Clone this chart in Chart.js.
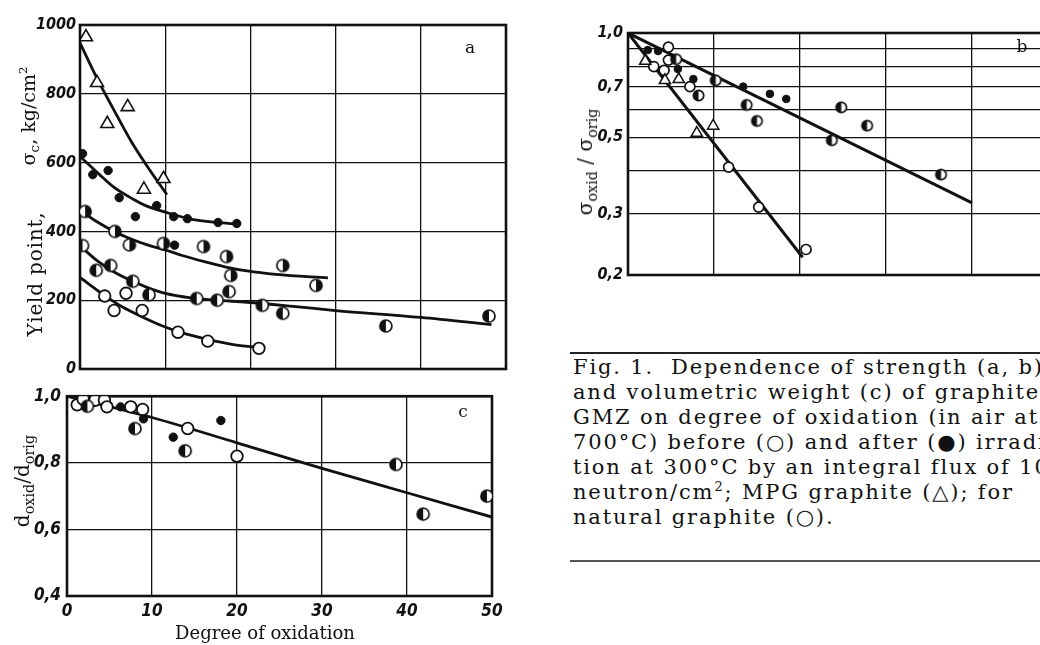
<!DOCTYPE html>
<html>
<head>
<meta charset="utf-8">
<script src="https://cdn.jsdelivr.net/npm/chart.js@4.4.1/dist/chart.umd.min.js"></script>
<style>
  html, body { margin: 0; padding: 0; background: #fff; }
  #page { position: relative; width: 1040px; height: 645px; overflow: hidden; background: #fff; }
  #page canvas { position: absolute; }
  .rot { position: absolute; white-space: nowrap; transform: translate(-50%, -50%) rotate(-90deg);
         font-family: 'DejaVu Serif', serif; color: #111; line-height: 1; }
  .lbl { position: absolute; white-space: nowrap; transform: translate(-50%, -50%);
         font-family: 'DejaVu Serif', serif; color: #111; line-height: 1; }
  .rot sub, .lbl sub { font-size: 72%; vertical-align: -0.32em; line-height: 0; }
  .rot sup { font-size: 62%; vertical-align: 0.6em; line-height: 0; }
  #caption { position: absolute; left: 573px; top: 355px; font-family: 'DejaVu Serif', serif;
             font-size: 21px; letter-spacing: 1.85px; line-height: 25px; white-space: nowrap; color: #111; }
  #caption sup { font-size: 62%; vertical-align: 0.6em; line-height: 0; }
  .rule { position: absolute; left: 570px; width: 480px; background: #222; }
</style>
</head>
<body>
<div id="page">
  <canvas id="chartA" width="520" height="385" style="left:0;top:0"></canvas>
  <canvas id="chartC" width="520" height="265" style="left:0;top:380px"></canvas>
  <canvas id="chartB" width="530" height="290" style="left:540px;top:0"></canvas>

  <div class="rot" style="left:28px;top:116px;font-size:19px">σ<sub>c</sub>, kg/cm<sup>2</sup></div>
  <div class="rot" style="left:35px;top:274px;font-size:20px;letter-spacing:0.8px">Yield point,</div>
  <div class="rot" style="left:22px;top:481px;font-size:20px">d<sub>oxid</sub>/d<sub>orig</sub></div>
  <div class="rot" style="left:585px;top:162px;font-size:20px">σ<sub>oxid</sub> / σ<sub>orig</sub></div>

  <div class="lbl" style="left:470px;top:47px;font-size:17px">a</div>
  <div class="lbl" style="left:463px;top:411px;font-size:17px">c</div>
  <div class="lbl" style="left:1022px;top:46px;font-size:17px">b</div>
  <div class="lbl" style="left:265px;top:633px;font-size:18px">Degree of oxidation</div>

  <div class="rule" style="top:352px;height:2px"></div>
  <div id="caption">
    <div>Fig. 1.&nbsp; Dependence of strength (a, b)</div>
    <div>and volumetric weight (c) of graphite</div>
    <div>GMZ on degree of oxidation (in air at</div>
    <div>700°C) before (○) and after (●) irradia-</div>
    <div>tion at 300°C by an integral flux of 10<sup>20</sup></div>
    <div>neutron/cm<sup>2</sup>; MPG graphite (△); for</div>
    <div>natural graphite (○).</div>
  </div>
  <div class="rule" style="top:560px;height:1.5px;background:#555"></div>
</div>

<script>
// ---- Panel a: yield point (kg/cm²) vs. degree of oxidation (%) ----
const aMpgPoints   = [[0.7,965],[2.0,832],[3.2,713],[5.6,762],[7.5,522],[9.8,553]];
const aMpgCurve    = [[0,948],[2,845],[4,752],[6,662],[8,585],[10.2,507]];
const aIrrPoints   = [[0.3,626],[1.5,565],[3.3,577],[4.6,498],[6.5,443],[9.0,475],[11.0,443],
                      [11.1,360],[12.6,437],[16.2,426],[18.4,423]];
const aIrrCurve    = [[0,618],[2.3,565],[4,528],[6.3,493],[8,472],[10,456],[13,436],[16,426],[18.5,421]];
const aHalfUpper   = [[0.6,458],[4.1,400],[5.8,361],[9.8,365],[14.5,356],[17.2,327],[17.7,272],
                      [23.8,301],[27.7,243]];
const aUpperCurve  = [[0,462],[2,428],[4,400],[6,378],[8,360],[10,346],[12,330],[14.6,312],
                      [17,297],[19.6,285],[23,275],[29.1,265]];
const aHalfLower   = [[0.3,359],[1.9,287],[3.6,301],[6.2,255],[8.1,216],[13.7,205],[16.1,200],
                      [17.5,225],[21.4,185],[23.8,162],[35.9,125],[48.0,154]];
const aLowerCurve  = [[0,358],[2,315],[4,282],[6,257],[8,236],[10,220],[13,207],[16,200],
                      [19.6,194],[25,182],[30,170],[40,150],[48.3,129]];
const aOpenPoints  = [[2.9,212],[4.0,170],[5.4,220],[7.3,170],[11.5,107],[15.0,81],[21.0,60]];
const aOpenCurve   = [[0,266],[3,212],[5,180],[7,155],[10,122],[12,105],[15,86],[18,71],[21,62]];
const aYTicks      = [0, 200, 400, 600, 800, 1000];
const aYTickLabels = ['0', '200', '400', '600', '800', '1000'];

// ---- Panel b: relative strength (log scale) ----
const bIrrPoints   = [[2.3,0.893],[3.5,0.887],[5.8,0.787],[7.6,0.736],[13.4,0.70],[16.5,0.667],[18.4,0.645]];
const bOpenPoints  = [[3.0,0.80],[4.2,0.78],[4.7,0.835],[4.7,0.91],[7.2,0.70],[11.7,0.41],[15.2,0.314],[20.7,0.237]];
const bHalfPoints  = [[5.6,0.84],[8.2,0.66],[10.2,0.73],[13.8,0.62],[15.0,0.557],[23.7,0.49],
                      [24.8,0.61],[27.8,0.54],[36.4,0.39]];
const bMpgPoints   = [[2.0,0.83],[4.3,0.73],[5.9,0.735],[8.0,0.514],[9.9,0.539]];
const bUpperLine   = [[0,1.0],[40,0.323]];
const bLowerLine   = [[0,1.0],[20.3,0.225]];
const bTickValues  = [0.2, 0.3, 0.4, 0.5, 0.6, 0.7, 0.8, 0.9, 1.0];
const bTickLabels  = ['0,2', '0,3', '', '0,5', '', '0,7', '', '', '1,0'];

// ---- Panel c: relative volumetric weight ----
const cOpenPoints  = [[1.2,0.974],[1.9,0.991],[3.3,0.988],[4.4,0.988],[4.7,0.968],[7.5,0.968],
                      [8.9,0.96],[14.2,0.903],[20.0,0.82]];
const cIrrPoints   = [[6.3,0.968],[9.0,0.932],[12.5,0.877],[18.1,0.927]];
const cHalfPoints  = [[2.4,0.97],[8.0,0.903],[13.9,0.836],[38.7,0.795],[41.9,0.646],[49.4,0.70]];
const cLine        = [[0,1.0],[10,0.936],[20,0.86],[30,0.783],[40,0.71],[50,0.637]];
const cYTicks      = [0.4, 0.6, 0.8, 1.0];
const cYTickLabels = ['0,4', '0,6', '0,8', '1,0'];
const xTickLabels  = ['0', '10', '20', '30', '40', '50'];

const INK = '#111';
const tickFont = size => ({ family: "'Liberation Sans Narrow','DejaVu Sans Condensed',sans-serif",
                            size, style: 'italic', weight: 'bold' });
const xy = arr => arr.map(([x, y]) => ({ x, y }));

// half-filled circle marker drawn onto a small canvas
function halfMarker(r, side) {
  const s = Math.ceil(r * 2 + 4), m = s / 2;
  const c = document.createElement('canvas');
  c.width = c.height = s;
  const g = c.getContext('2d');
  g.beginPath(); g.arc(m, m, r, 0, Math.PI * 2); g.fillStyle = '#fff'; g.fill();
  g.beginPath();
  if (side === 'left') g.arc(m, m, r, Math.PI / 2, Math.PI * 1.5);
  else g.arc(m, m, r, -Math.PI / 2, Math.PI / 2);
  g.closePath(); g.fillStyle = INK; g.fill();
  g.beginPath(); g.arc(m, m, r, 0, Math.PI * 2);
  g.lineWidth = 1.7; g.strokeStyle = INK; g.stroke();
  return c;
}

function points(arr, style, radius, fill, bw) {
  return { data: xy(arr), pointStyle: style, pointRadius: radius, pointBackgroundColor: fill,
           pointBorderColor: INK, pointBorderWidth: bw, showLine: false, order: 0 };
}
function curve(arr, width, smooth) {
  return { data: xy(arr), showLine: true, pointRadius: 0, borderColor: INK, borderWidth: width,
           cubicInterpolationMode: smooth ? 'monotone' : 'default', tension: 0, order: 1 };
}

const framePlugin = {
  id: 'frame',
  beforeDatasetsDraw(chart) {
    const { left, top, right, bottom } = chart.chartArea;
    const ctx = chart.ctx;
    ctx.save();
    ctx.strokeStyle = INK; ctx.lineWidth = 2.6;
    ctx.strokeRect(left, top, right - left, bottom - top);
    ctx.restore();
  }
};

const grid = { color: INK, lineWidth: 1.3, drawTicks: false };
const baseOptions = {
  responsive: false, animation: false, events: [],
  plugins: { legend: { display: false }, tooltip: { enabled: false } }
};
const fixedTicks = values => s => { s.ticks = values.map(v => ({ value: v })); };

// Panel a
new Chart(document.getElementById('chartA'), {
  type: 'scatter',
  data: { datasets: [
    points(aMpgPoints, 'triangle', 7.5, '#fff', 1.6),
    points(aIrrPoints, 'circle', 4.2, INK, 1),
    points(aHalfUpper, halfMarker(6, 'right'), 6, '#fff', 1),
    points(aHalfLower, halfMarker(6, 'left'), 6, '#fff', 1),
    points(aOpenPoints, 'circle', 5.8, '#fff', 1.8),
    curve(aMpgCurve, 2.8, true),
    curve(aIrrCurve, 2.8, true),
    curve(aUpperCurve, 2.8, true),
    curve(aLowerCurve, 2.8, true),
    curve(aOpenCurve, 2.8, true)
  ] },
  options: { ...baseOptions,
    layout: { padding: { left: 0, top: 25, right: 14, bottom: 0 } },
    scales: {
      x: { type: 'linear', min: 0, max: 50, ticks: { display: false, stepSize: 10 },
           grid, border: { display: false }, afterFit: s => { s.height = 16; } },
      y: { type: 'linear', min: 0, max: 1000, afterBuildTicks: fixedTicks(aYTicks),
           ticks: { color: INK, font: tickFont(16), padding: 4, callback: (v, i) => aYTickLabels[i] },
           grid, border: { display: false }, afterFit: s => { s.width = 80; } }
    }
  },
  plugins: [framePlugin]
});

// Panel c
new Chart(document.getElementById('chartC'), {
  type: 'scatter',
  data: { datasets: [
    points(cIrrPoints, 'circle', 4.2, INK, 1),
    points(cHalfPoints, halfMarker(6, 'left'), 6, '#fff', 1),
    points(cOpenPoints, 'circle', 5.8, '#fff', 1.8),
    curve(cLine, 2.8, true)
  ] },
  options: { ...baseOptions,
    layout: { padding: { left: 0, top: 11, right: 28, bottom: 0 } },
    scales: {
      x: { type: 'linear', min: 0, max: 50, afterBuildTicks: fixedTicks(xTickLabels.map(Number)),
           ticks: { color: INK, font: tickFont(17), padding: 5, maxRotation: 0,
                    callback: (v, i) => xTickLabels[i] },
           grid, border: { display: false }, afterFit: s => { s.height = 49; } },
      y: { type: 'linear', min: 0.4, max: 1.0, afterBuildTicks: fixedTicks(cYTicks),
           ticks: { color: INK, font: tickFont(17), padding: 6, callback: (v, i) => cYTickLabels[i] },
           grid, border: { display: false }, afterFit: s => { s.width = 67; } }
    }
  },
  plugins: [framePlugin]
});

// Panel b
new Chart(document.getElementById('chartB'), {
  type: 'scatter',
  data: { datasets: [
    points(bMpgPoints, 'triangle', 6.5, '#fff', 1.5),
    points(bIrrPoints, 'circle', 3.8, INK, 1),
    points(bHalfPoints, halfMarker(5.2, 'left'), 5, '#fff', 1),
    points(bOpenPoints, 'circle', 5, '#fff', 1.7),
    curve(bUpperLine, 3, false),
    curve(bLowerLine, 3, false)
  ] },
  options: { ...baseOptions,
    layout: { padding: { left: 0, top: 33, right: 12, bottom: 0 } },
    scales: {
      x: { type: 'linear', min: 0, max: 50, ticks: { display: false, stepSize: 10 },
           grid, border: { display: false }, afterFit: s => { s.height = 15; } },
      y: { type: 'logarithmic', min: 0.2, max: 1.0, afterBuildTicks: fixedTicks(bTickValues),
           ticks: { color: INK, font: tickFont(16), padding: 5, autoSkip: false,
                    callback: (v, i) => bTickLabels[i] },
           grid, border: { display: false }, afterFit: s => { s.width = 88; } }
    }
  },
  plugins: [framePlugin]
});
</script>
</body>
</html>
